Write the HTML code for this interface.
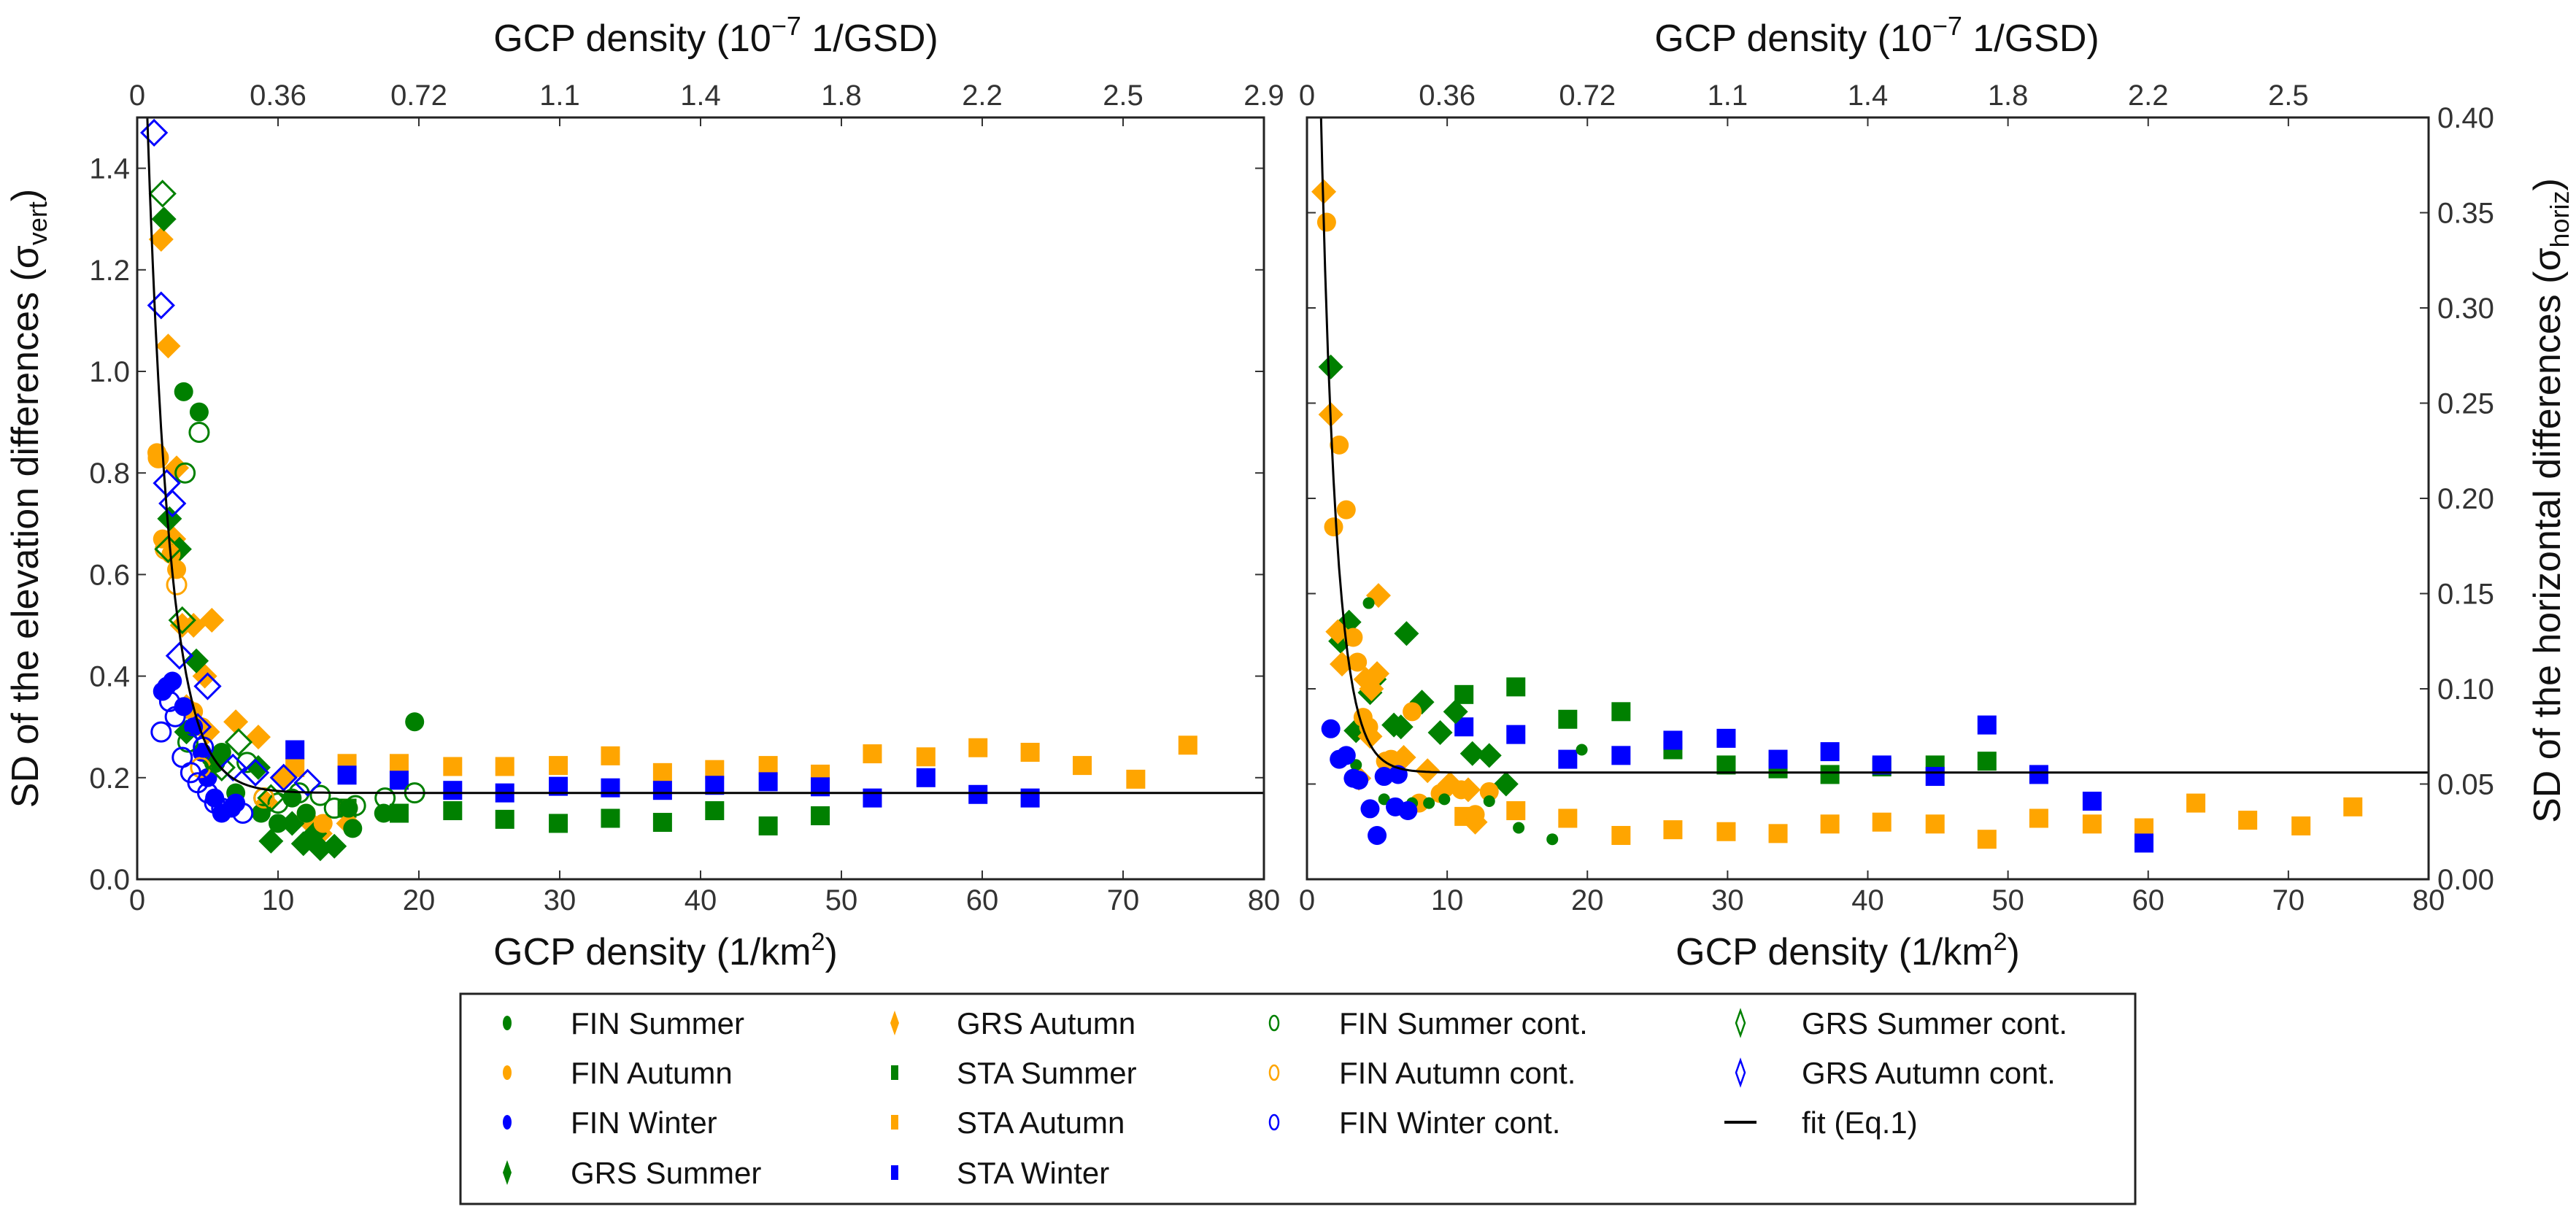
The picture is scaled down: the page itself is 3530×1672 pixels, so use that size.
<!DOCTYPE html>
<html><head><meta charset="utf-8"><style>
html,body{margin:0;padding:0;background:#fff;}
svg{display:block;font-family:"Liberation Sans",sans-serif;}
</style></head><body>
<svg id="fig" width="3530" height="1672" viewBox="0 0 3530 1672" xmlns="http://www.w3.org/2000/svg">
<g id="left"></g>
<g id="right"></g>
<g id="legend"></g>
</svg>
<script>
const xTicks=[0,10,20,30,40,50,60,70,80];
const topTicksL=["0","0.36","0.72","1.1","1.4","1.8","2.2","2.5","2.9"];
const topTicksR=["0","0.36","0.72","1.1","1.4","1.8","2.2","2.5",""];
const yTicksL=[0,0.2,0.4,0.6,0.8,1.0,1.2,1.4];
const yTicksR=[0,0.05,0.10,0.15,0.20,0.25,0.30,0.35,0.40];
const staX=[11.2,14.9,18.6,22.4,26.1,29.9,33.6,37.3,41,44.8,48.5,52.2,56,59.7,63.4,67.1,70.9,74.6];
const L_staAutumn=[0.22,0.228,0.228,0.222,0.222,0.224,0.243,0.21,0.216,0.224,0.207,0.247,0.241,0.259,0.25,0.224,0.197,0.264];
const L_staWinter=[0.255,0.205,0.195,0.175,0.17,0.183,0.18,0.175,0.185,0.192,0.182,0.16,0.2,0.167,0.16];
const L_staSummer=[0.2,0.14,0.13,0.135,0.118,0.11,0.12,0.112,0.135,0.105,0.125];
const L_grsAutCont=[[1.2,1.47],[1.7,1.13],[2.1,0.78],[2.5,0.74],[3.0,0.44],[5.0,0.38],[6.8,0.22],[8.4,0.21],[10.4,0.2],[12.1,0.19],[4.3,0.3]];
const L_grsSumCont=[[1.8,1.35],[2.2,0.65],[3.2,0.51],[7.2,0.27],[9.5,0.16],[6.0,0.22]];
const L_grsSummer=[[1.9,1.3],[2.3,0.71],[3.0,0.65],[4.2,0.43],[5.5,0.23],[8.6,0.22],[9.5,0.075],[11.8,0.07],[13,0.06],[14,0.065],[11,0.11],[12.6,0.09],[3.5,0.29]];
const L_grsAutumn=[[1.7,1.26],[2.2,1.05],[2.8,0.81],[2.6,0.67],[3.2,0.5],[4.0,0.5],[5.3,0.51],[3.5,0.34],[4.8,0.4],[7.0,0.31],[8.6,0.28],[9.2,0.15],[10.5,0.2],[12,0.12],[13,0.09],[15,0.11],[5,0.29]];
const L_finSummer=[[3.3,0.96],[4.4,0.92],[19.7,0.31],[6,0.25],[8.8,0.13],[10,0.11],[12,0.13],[15,0.14],[17.5,0.13],[11,0.16],[7,0.17],[15.3,0.1]];
const L_finSumCont=[[4.4,0.88],[3.4,0.8],[7.8,0.23],[9,0.16],[10,0.15],[11.5,0.17],[13,0.165],[14,0.14],[15.5,0.145],[17.6,0.16],[19.7,0.17],[5.5,0.23],[3.6,0.27]];
const L_finAutumn=[[1.4,0.84],[1.5,0.83],[1.8,0.67],[2.8,0.61],[2.4,0.64],[4,0.33],[4.6,0.3],[12,0.13],[15,0.14],[13.2,0.11]];
const L_finAutCont=[[1.5,0.83],[2.0,0.65],[2.8,0.58],[4.5,0.22],[9,0.16]];
const L_finWinter=[[1.8,0.37],[2.1,0.38],[2.5,0.39],[3.3,0.34],[4,0.3],[5,0.2],[6,0.13],[6.7,0.14],[7,0.15],[5.5,0.16],[4.6,0.25]];
const L_finWinCont=[[1.7,0.29],[2.3,0.35],[2.7,0.32],[3.2,0.24],[3.8,0.21],[4.3,0.19],[5,0.17],[5.5,0.15],[6,0.14],[7.5,0.13],[4.7,0.26]];
const L_fit=[0.17,2.09,0.63];
const R_staAutumn=[0.033,0.036,0.032,0.023,0.026,0.025,0.024,0.029,0.03,0.029,0.021,0.032,0.029,0.027,0.04,0.031,0.028,0.038];
const R_staWinter=[0.08,0.076,0.063,0.065,0.073,0.074,0.063,0.067,0.06,0.054,0.081,0.055,0.041,0.019];
const R_staSummer=[0.097,0.101,0.084,0.088,0.068,0.06,0.058,0.055,0.059,0.06,0.062];
const R_grsSummer=[[1.7,0.269],[3,0.135],[2.4,0.125],[7.1,0.129],[8.2,0.093],[4.8,0.105],[6.2,0.081],[6.7,0.08],[3.5,0.078],[4.5,0.098],[9.5,0.077],[10.6,0.088],[11.8,0.066],[13,0.065],[14.2,0.05]];
const R_grsAutumn=[[1.2,0.361],[1.7,0.244],[2.2,0.13],[2.5,0.113],[5.1,0.149],[4.2,0.105],[4.6,0.1],[5,0.108],[3.7,0.053],[6,0.06],[6.9,0.064],[8.6,0.057],[10.2,0.05],[11.5,0.047],[12,0.03],[4.5,0.075]];
const R_finAutumn=[[1.4,0.345],[2.3,0.228],[2.8,0.194],[1.9,0.185],[3.3,0.127],[3.6,0.114],[4,0.085],[4.4,0.08],[5.6,0.062],[6,0.063],[7.5,0.088],[9.5,0.045],[11,0.047],[13,0.046],[12,0.034],[8,0.04]];
const R_finSummer=[[4.4,0.145],[5.5,0.042],[7.5,0.04],[8.7,0.04],[9.8,0.042],[13,0.041],[15.1,0.027],[17.5,0.021],[19.6,0.068],[3.5,0.06]];
const R_finWinter=[[1.7,0.079],[2.3,0.063],[2.8,0.065],[3.3,0.053],[3.7,0.052],[5.5,0.054],[6.5,0.055],[4.5,0.037],[6.3,0.038],[7.2,0.036],[5,0.023]];
const R_fit=[0.056,0.846,0.9];

const NS="http://www.w3.org/2000/svg";
const G="#008000",O="#ffa500",B="#0000ff";
function mk(tag,attrs,parent){const e=document.createElementNS(NS,tag);for(const k in attrs)e.setAttribute(k,attrs[k]);parent.appendChild(e);return e;}
function marker(p,shape,cx,cy,color,filled,r){
  let e;const f=filled?color:"none";const sw=filled?0:3;
  if(shape==="o"){e=mk("circle",{cx:cx,cy:cy,r:r||13,fill:f,stroke:color,"stroke-width":sw},p);}
  else if(shape==="s"){e=mk("rect",{x:cx-13,y:cy-13,width:26,height:26,fill:f,stroke:color,"stroke-width":sw},p);}
  else {const d=r||17;e=mk("polygon",{points:`${cx},${cy-d} ${cx+d},${cy} ${cx},${cy+d} ${cx-d},${cy}`,fill:f,stroke:color,"stroke-width":sw},p);}
  return e;
}
function panel(gid,x0,x1,y0,y1,ymax,yT,topT,rightLabels,yFmt,series,fit,ytitle,tcx,bcx,ytx,yty){
  const g=document.getElementById(gid);
  const X=v=>x0+v/80*(x1-x0), Y=v=>y1-v/ymax*(y1-y0);
  xTicks.forEach((t,i)=>{
    const px=X(t);
    mk("line",{x1:px,y1:y1,x2:px,y2:y1-12,stroke:"#333","stroke-width":2},g);
    mk("line",{x1:px,y1:y0,x2:px,y2:y0+12,stroke:"#333","stroke-width":2},g);
    const tl=mk("text",{x:px,y:1247,"font-size":40,"text-anchor":"middle",fill:"#333"},g);tl.textContent=t;
    
    
    if(topT[i]){const tt=mk("text",{x:px,y:144,"font-size":40,"text-anchor":"middle",fill:"#333"},g);tt.textContent=topT[i];
    
    }
  });
  yT.forEach(t=>{
    const py=Y(t);
    mk("line",{x1:x0,y1:py,x2:x0+12,y2:py,stroke:"#333","stroke-width":2},g);
    mk("line",{x1:x1,y1:py,x2:x1-12,y2:py,stroke:"#333","stroke-width":2},g);
    const tl=mk("text",{x:rightLabels?x1+12:x0-10,y:py+14,"font-size":40,"text-anchor":rightLabels?"start":"end",fill:"#333"},g);
    tl.textContent=yFmt(t);
    
    
  });
  const clip=mk("clipPath",{id:gid+"clip"},g);mk("rect",{x:x0,y:y0,width:x1-x0,height:y1-y0},clip);
  const pg=mk("g",{"clip-path":`url(#${gid}clip)`},g);
  series.forEach(s=>{
    const sg=mk("g",{},pg);
    
    
    s.pts.forEach(pt=>{
      const m=marker(sg,s.shape,X(pt[0]),Y(pt[1]),s.color,s.filled,s.r);
      
      
    });
  });
  let d="";for(let i=0;i<=400;i++){const xv=0.3+i*(79.7/400);const yv=fit[0]+fit[1]*Math.exp(-fit[2]*xv);d+=(i?"L":"M")+X(xv).toFixed(1)+","+Y(yv).toFixed(1);}
  const fl=mk("path",{d:d,fill:"none",stroke:"#000","stroke-width":3},pg);
  
  
  const fr=mk("rect",{x:x0,y:y0,width:x1-x0,height:y1-y0,fill:"none",stroke:"#222","stroke-width":3},g);
  
  
  const bt=mk("text",{x:bcx,y:1322,"font-size":52,"text-anchor":"middle",fill:"#111"},g);
  bt.innerHTML='GCP density (1/km<tspan dy="-20" font-size="34">2</tspan><tspan dy="20">)</tspan>';
  
  
  const tt=mk("text",{x:tcx,y:70,"font-size":52,"text-anchor":"middle",fill:"#111"},g);
  tt.innerHTML='GCP density (10<tspan dy="-22" font-size="36">−7</tspan><tspan dy="22"> 1/GSD)</tspan>';
  
  
  const yt=mk("text",{x:0,y:0,"font-size":52,"text-anchor":"middle",fill:"#111",transform:`translate(${ytx},${yty}) rotate(-90)`},g);
  yt.innerHTML=ytitle;
  
  
}
const pairs=(xs,ys)=>ys.map((v,i)=>[xs[i],v]);
panel("left",188,1732,161,1205,1.5,yTicksL,topTicksL,false,t=>t.toFixed(1),[
 {name:"sta-autumn",shape:"s",color:O,filled:true,pts:pairs(staX,L_staAutumn)},
 {name:"sta-winter",shape:"s",color:B,filled:true,pts:pairs(staX,L_staWinter)},
 {name:"sta-summer",shape:"s",color:G,filled:true,pts:pairs(staX,L_staSummer).slice(1)},
 {name:"grs-autumn",shape:"d",color:O,filled:true,pts:L_grsAutumn},
 {name:"grs-summer",shape:"d",color:G,filled:true,pts:L_grsSummer},
 {name:"fin-autumn",shape:"o",color:O,filled:true,pts:L_finAutumn},
 {name:"fin-summer",shape:"o",color:G,filled:true,pts:L_finSummer},
 {name:"fin-winter",shape:"o",color:B,filled:true,pts:L_finWinter},
 {name:"fin-summer-cont",shape:"o",color:G,filled:false,pts:L_finSumCont},
 {name:"fin-autumn-cont",shape:"o",color:O,filled:false,pts:L_finAutCont},
 {name:"fin-winter-cont",shape:"o",color:B,filled:false,pts:L_finWinCont},
 {name:"grs-summer-cont",shape:"d",color:G,filled:false,pts:L_grsSumCont},
 {name:"grs-autumn-cont",shape:"d",color:B,filled:false,pts:L_grsAutCont}
],L_fit,'SD of the elevation differences (σ<tspan dy="12" font-size="36">vert</tspan><tspan dy="-12">)</tspan>',981,912,52,683);
panel("right",1791,3328,161,1205,0.4,yTicksR,topTicksR,true,t=>t.toFixed(2),[
 {name:"sta-autumn",shape:"s",color:O,filled:true,pts:pairs(staX,R_staAutumn)},
 {name:"sta-summer",shape:"s",color:G,filled:true,pts:pairs(staX,R_staSummer)},
 {name:"sta-winter",shape:"s",color:B,filled:true,pts:pairs(staX,R_staWinter)},
 {name:"grs-summer",shape:"d",color:G,filled:true,pts:R_grsSummer},
 {name:"grs-autumn",shape:"d",color:O,filled:true,pts:R_grsAutumn},
 {name:"fin-autumn",shape:"o",color:O,filled:true,pts:R_finAutumn},
 {name:"fin-summer",shape:"o",color:G,filled:true,pts:R_finSummer,r:8},
 {name:"fin-winter",shape:"o",color:B,filled:true,pts:R_finWinter}
],R_fit,'SD of the horizontal differences (σ<tspan dy="12" font-size="36">horiz</tspan><tspan dy="-12">)</tspan>',2572,2532,3508,686);
const lg=document.getElementById("legend");
const box=mk("rect",{x:631,y:1362,width:2295,height:288,fill:"#fff",stroke:"#222","stroke-width":3},lg);


const entries=[
 [0,0,"FIN Summer","o",G,true],[0,1,"FIN Autumn","o",O,true],[0,2,"FIN Winter","o",B,true],[0,3,"GRS Summer","d",G,true],
 [1,0,"GRS Autumn","d",O,true],[1,1,"STA Summer","s",G,true],[1,2,"STA Autumn","s",O,true],[1,3,"STA Winter","s",B,true],
 [2,0,"FIN Summer cont.","o",G,false],[2,1,"FIN Autumn cont.","o",O,false],[2,2,"FIN Winter cont.","o",B,false],
 [3,0,"GRS Summer cont.","d",G,false],[3,1,"GRS Autumn cont.","d",B,false],[3,2,"fit (Eq.1)","l","#000",true]];
const colMX=[695,1226,1746,2385],colTX=[782,1311,1835,2469],rowY=[1402,1470,1538,1607];
entries.forEach(e=>{
  const eg=mk("g",{},lg);
  
  
  const cx=colMX[e[0]],cy=rowY[e[1]];
  if(e[3]==="l"){mk("line",{x1:cx-22,y1:cy,x2:cx+22,y2:cy,stroke:"#000","stroke-width":4},eg);}
  else if(e[3]==="o"){mk("ellipse",{cx:cx,cy:cy,rx:6,ry:10,fill:e[5]?e[4]:"none",stroke:e[4],"stroke-width":e[5]?0:2.5},eg);}
  else if(e[3]==="s"){mk("rect",{x:cx-5,y:cy-10,width:10,height:20,fill:e[4]},eg);}
  else {mk("polygon",{points:`${cx},${cy-17} ${cx+6},${cy} ${cx},${cy+17} ${cx-6},${cy}`,fill:e[5]?e[4]:"none",stroke:e[4],"stroke-width":e[5]?0:2.5},eg);}
  const t=mk("text",{x:colTX[e[0]],y:cy+15,"font-size":42,fill:"#111"},eg);t.textContent=e[2];
});
</script>
</body></html>
